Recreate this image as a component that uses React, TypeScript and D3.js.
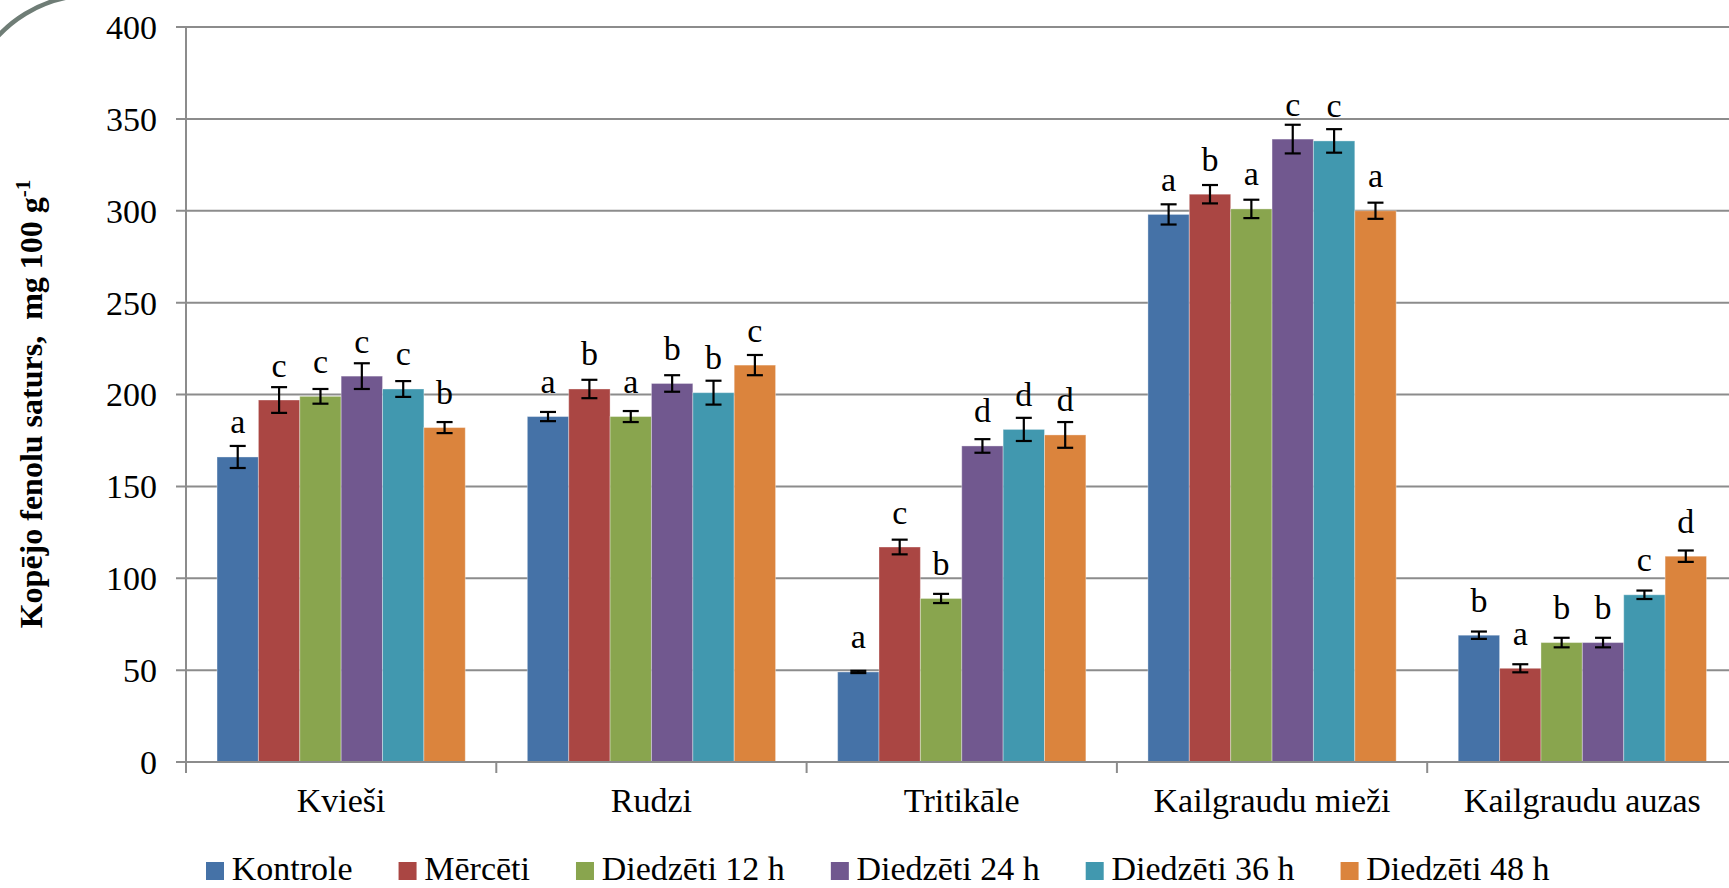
import React from "react";
import * as d3 from "d3";

// Cereal types on the x axis
const categories = ["Kvieši", "Rudzi", "Tritikāle", "Kailgraudu mieži", "Kailgraudu auzas"];

// Treatments (one series each)
const seriesNames = ["Kontrole", "Mērcēti", "Diedzēti 12 h", "Diedzēti 24 h", "Diedzēti 36 h", "Diedzēti 48 h"];
const seriesColors = ["#4572A7", "#AA4643", "#89A54E", "#71588F", "#4198AF", "#DB843D"];

// Total phenolic content, mg 100 g-1, per treatment across cereals
const kontrole = [166, 188, 49, 298, 69];
const mercetiVals = [197, 203, 117, 309, 51];
const diedzeti12 = [199, 188, 89, 301, 65];
const diedzeti24 = [210, 206, 172, 339, 65];
const diedzeti36 = [203, 201, 181, 338, 91];
const diedzeti48 = [182, 216, 178, 300, 112];

// Standard deviations
const kontroleErr = [6, 2.5, 0.6, 5.5, 2];
const mercetiErr = [7, 5, 4, 5, 2.2];
const diedzeti12Err = [4, 3, 2.5, 5, 2.6];
const diedzeti24Err = [7, 4.5, 3.7, 7.8, 2.6];
const diedzeti36Err = [4.3, 6.5, 6.3, 6.4, 2.3];
const diedzeti48Err = [3, 5.5, 7, 4.4, 3.1];

// Significance letters
const kontroleSig = ["a", "a", "a", "a", "b"];
const mercetiSig = ["c", "b", "c", "b", "a"];
const diedzeti12Sig = ["c", "a", "b", "a", "b"];
const diedzeti24Sig = ["c", "b", "d", "c", "b"];
const diedzeti36Sig = ["c", "b", "d", "c", "c"];
const diedzeti48Sig = ["b", "c", "d", "a", "d"];

const yTicks = [0, 50, 100, 150, 200, 250, 300, 350, 400];

const seriesValues = [kontrole, mercetiVals, diedzeti12, diedzeti24, diedzeti36, diedzeti48];
const seriesErrors = [kontroleErr, mercetiErr, diedzeti12Err, diedzeti24Err, diedzeti36Err, diedzeti48Err];
const seriesLetters = [kontroleSig, mercetiSig, diedzeti12Sig, diedzeti24Sig, diedzeti36Sig, diedzeti48Sig];

const W = 1729;
const H = 888;
const FONT = "'Liberation Serif', 'Times New Roman', serif";
const AXIS = "#8c8c8c";

function measure(text: string, size: number): number {
  const c = document.createElement("canvas").getContext("2d");
  if (!c) return text.length * size * 0.45;
  c.font = `${size}px 'Liberation Serif'`;
  return c.measureText(text).width;
}

export default function App() {
  const left = 186;
  const catW = 310.3;
  const x0 = d3.scaleBand<string>().domain(categories).range([left, left + catW * categories.length]).paddingInner(0).paddingOuter(0);
  // gap width 150% of a bar: 6 bars + 1.5 gap per category
  const barW = catW / 7.5;
  const x1 = d3.scaleBand<string>().domain(seriesNames).range([0, barW * 6]);
  const groupOffset = (catW - barW * 6) / 2;
  const y = d3.scaleLinear().domain([0, 400]).range([762, 27]);
  const right = left + catW * categories.length;

  // legend layout
  const legendItems: { x: number; name: string; color: string }[] = [];
  let cursor = 206;
  seriesNames.forEach((name, i) => {
    legendItems.push({ x: cursor, name, color: seriesColors[i] });
    cursor += 25.7 + measure(name, 34) + 46;
  });

  return (
    <svg
      width={W}
      height={H}
      style={{ position: "absolute", left: 0, top: 0, background: "#fff", fontFamily: FONT }}
    >
      <rect x={0} y={0} width={W} height={H} fill="#fff" />
      {/* decorative arc in the corner */}
      <path d="M -10 45.7 A 128 128 0 0 1 70 -3.1" fill="none" stroke="#6f7d76" strokeWidth={4.5} />

      {/* gridlines and y ticks */}
      {yTicks.map((t) => (
        <g key={t}>
          <line x1={left - 10} x2={right} y1={y(t)} y2={y(t)} stroke={AXIS} strokeWidth={2} />
          <text x={157} y={y(t)} dy="0.35em" textAnchor="end" fontSize={34} fill="#000">
            {t}
          </text>
        </g>
      ))}
      {/* y axis line */}
      <line x1={left} x2={left} y1={y(400)} y2={y(0)} stroke={AXIS} strokeWidth={2} />
      {/* x category ticks */}
      {d3.range(categories.length + 1).map((i) => (
        <line key={i} x1={left + i * catW} x2={left + i * catW} y1={y(0)} y2={y(0) + 11} stroke={AXIS} strokeWidth={2} />
      ))}

      {/* bars */}
      {categories.map((cat, ci) => (
        <g key={cat} transform={`translate(${(x0(cat) as number) + groupOffset},0)`}>
          {seriesNames.map((s, si) => {
            const v = seriesValues[si][ci];
            return (
              <rect
                key={s}
                x={x1(s)}
                y={y(v)}
                width={barW}
                height={y(0) - y(v)}
                fill={seriesColors[si]}
                stroke="#ffffff"
                strokeOpacity={0.35}
                strokeWidth={1}
              />
            );
          })}
        </g>
      ))}

      {/* axis baseline drawn over bars */}
      <line x1={left - 10} x2={right} y1={y(0)} y2={y(0)} stroke={AXIS} strokeWidth={2} />

      {/* error bars and letters */}
      {categories.map((cat, ci) => (
        <g key={cat} transform={`translate(${(x0(cat) as number) + groupOffset},0)`}>
          {seriesNames.map((s, si) => {
            const v = seriesValues[si][ci];
            const e = seriesErrors[si][ci];
            const cx = (x1(s) as number) + barW / 2;
            const yt = y(v + e);
            const yb = y(v - e);
            return (
              <g key={s}>
                <line x1={cx} x2={cx} y1={yt} y2={yb} stroke="#000" strokeWidth={2.2} />
                <line x1={cx - 8} x2={cx + 8} y1={yt} y2={yt} stroke="#000" strokeWidth={2.2} />
                <line x1={cx - 8} x2={cx + 8} y1={yb} y2={yb} stroke="#000" strokeWidth={2.2} />
                <text x={cx} y={y(v) - 23.5} textAnchor="middle" fontSize={34} fill="#000">
                  {seriesLetters[si][ci]}
                </text>
              </g>
            );
          })}
        </g>
      ))}

      {/* category labels */}
      {categories.map((cat) => (
        <text key={cat} x={(x0(cat) as number) + catW / 2} y={812} textAnchor="middle" fontSize={34} fill="#000">
          {cat}
        </text>
      ))}

      {/* y axis title */}
      <text
        transform="translate(42,404) rotate(-90)"
        textAnchor="middle"
        fontSize={32}
        fontWeight="bold"
        fill="#000"
        style={{ whiteSpace: "pre" }}
      >
        {"Kopējo fenolu saturs,  mg 100 g"}
        <tspan fontSize={21} dy={-12}>
          -1
        </tspan>
      </text>

      {/* legend */}
      {legendItems.map((it) => (
        <g key={it.name}>
          <rect x={it.x} y={862} width={18} height={18} fill={it.color} />
          <text x={it.x + 25.7} y={880} fontSize={34} fill="#000">
            {it.name}
          </text>
        </g>
      ))}
    </svg>
  );
}
